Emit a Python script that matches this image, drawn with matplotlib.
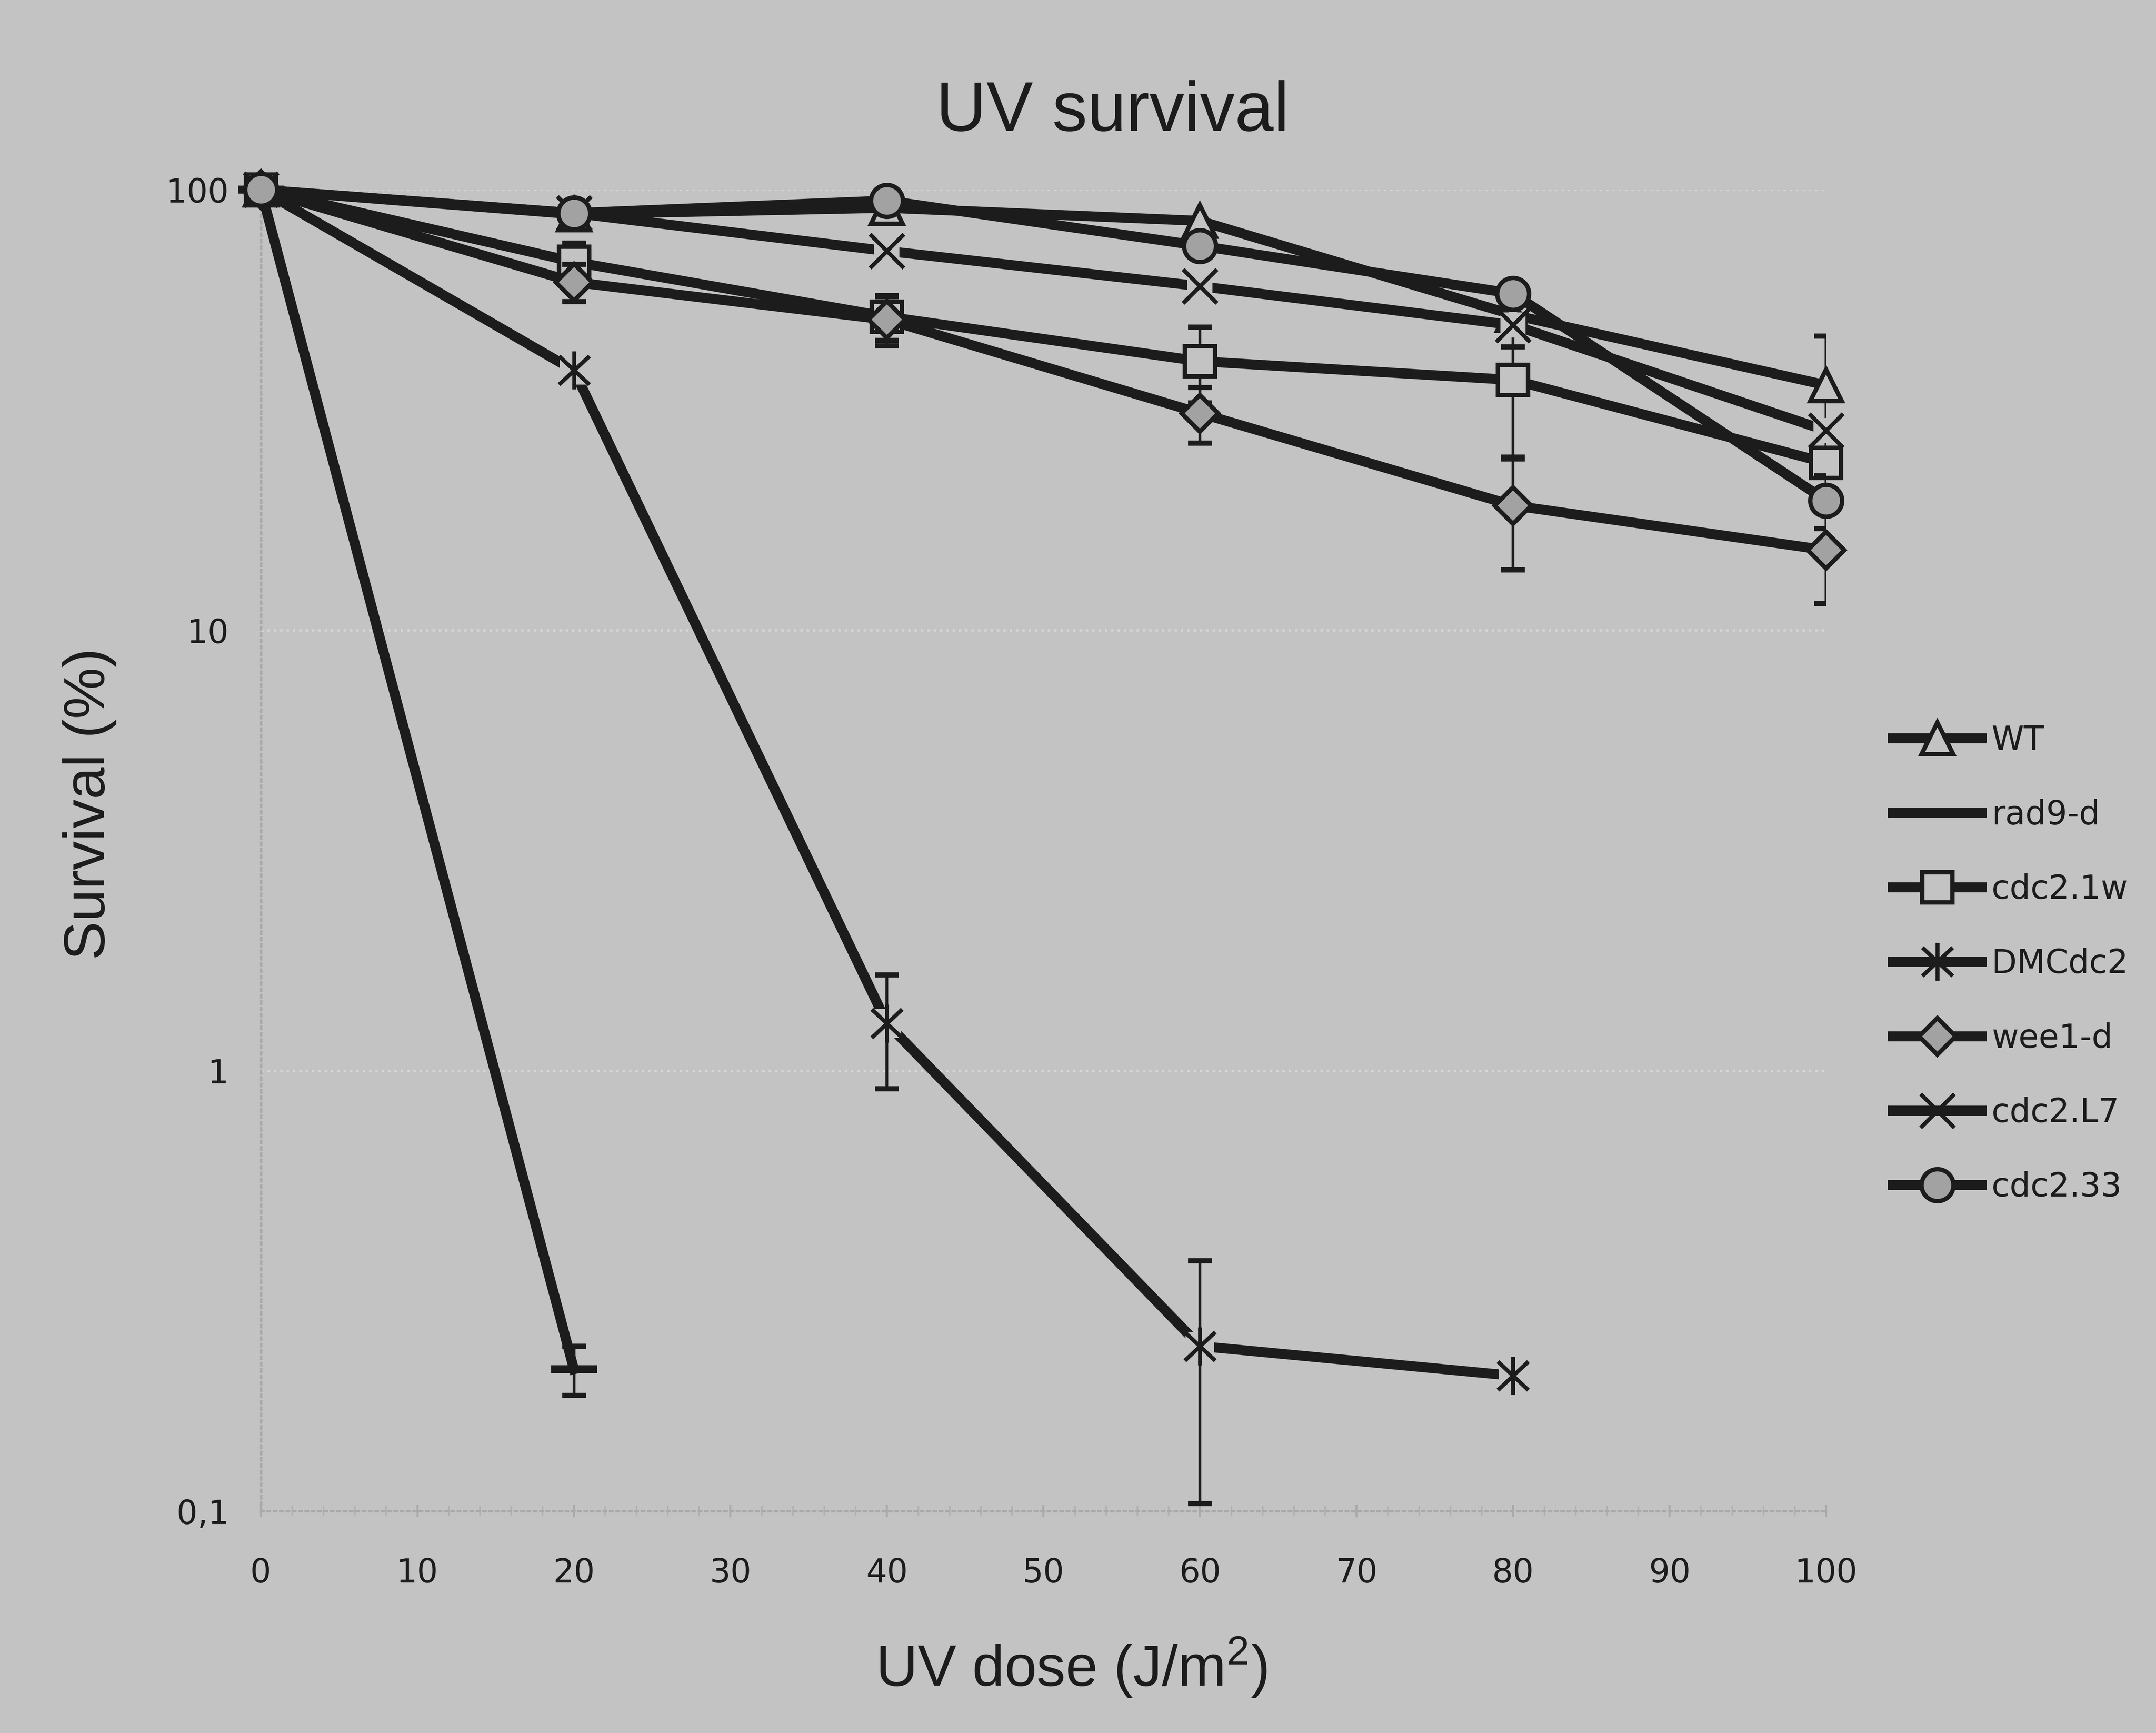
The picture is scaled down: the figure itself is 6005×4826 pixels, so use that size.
import matplotlib
matplotlib.use("Agg")
import matplotlib.pyplot as plt
from matplotlib.path import Path
import numpy as np

# UV dose (J/m2)
dose = [0, 20, 40, 60, 80, 100]

# survival (%) per strain
wt = [100, 88, 91, 85, 52, 36]
wt_err = [0, 0, 0, 0, 8, 10.5]
rad9 = [100, 0.21]
rad9_err = [0, 0.027]
cdc2_1w = [100, 68.6, 51.5, 40.8, 37, 24]
cdc2_1w_err = [0, 7, 6, 8, 12.5, 0]
dmcdc2 = [100, 38.9, 1.28, 0.237, 0.203]
dmcdc2_err = [0, 0, 0.37, 0.133, 0]
wee1 = [100, 61.7, 50.7, 31.1, 19.2, 15.2]
wee1_err = [0, 6, 6.5, 4.5, 5.5, 3.7]
cdc2_l7 = [100, 88.5, 72.6, 60.4, 49.3, 28.4]
cdc2_l7_err = [0, 0, 0, 0, 0, 0]
cdc2_33 = [100, 88.5, 94.5, 74.6, 58.1, 19.7]
cdc2_33_err = [0, 0, 0, 0, 0, 2.7]

bg = '#c3c3c3'
ink = '#1c1c1c'
fill = '#a2a2a2'

# six-armed asterisk marker
asterisk = Path([(0, -1), (0, 1), (-0.8, -0.75), (0.8, 0.75),
                 (-0.8, 0.75), (0.8, -0.75)],
                [Path.MOVETO, Path.LINETO, Path.MOVETO, Path.LINETO,
                 Path.MOVETO, Path.LINETO])

series = [
    ('WT', wt, wt_err, dict(marker='^', ms=16, mfc=bg, mew=2.2), False),
    ('rad9-d', rad9, rad9_err, dict(marker='_', ms=23, mew=4), False),
    ('cdc2.1w', cdc2_1w, cdc2_1w_err, dict(marker='s', ms=15, mfc=bg, mew=2.2), False),
    ('DMCdc2', dmcdc2, dmcdc2_err, dict(marker=asterisk, ms=19, mfc='none', mew=2), True),
    ('wee1-d', wee1, wee1_err, dict(marker='D', ms=13, mfc=fill, mew=2.2), False),
    ('cdc2.L7', cdc2_l7, cdc2_l7_err, dict(marker='x', ms=17, mew=2), True),
    ('cdc2.33', cdc2_33, cdc2_33_err, dict(marker='o', ms=16, mfc=fill, mew=2.2), False),
]

plt.rcParams['mathtext.default'] = 'regular'
fig = plt.figure(figsize=(15.0125, 12.065), dpi=400, facecolor=bg)
ax = fig.add_axes([0.121, 0.128, 0.726, 0.7625], facecolor=bg)

handles = []
for i, (name, vals, err, style, gap) in enumerate(series):
    x = dose[:len(vals)]
    z = 3 + i
    line, = ax.plot(x, vals, color=ink, lw=5, mec=ink, label=name,
                    zorder=z, clip_on=False, **style)
    if gap:
        # lines stop short of open cross markers
        ax.plot(x, vals, ls='none', marker='s', ms=style['ms'] * 0.75,
                mfc=bg, mec='none', zorder=z + 0.1, clip_on=False)
        ax.plot(x, vals, ls='none', color=ink, mec=ink, zorder=z + 0.2,
                clip_on=False, **style)
    xe = [a for a, e in zip(x, err) if e > 0]
    ye = [v for v, e in zip(vals, err) if e > 0]
    ee = [e for e in err if e > 0]
    if xe:
        ax.errorbar(xe, ye, yerr=ee, fmt='none', ecolor=ink, elinewidth=1.4,
                    capsize=6, capthick=2.6, zorder=z - 0.5)
    handles.append(line)

ax.set_yscale('log')
ax.set_xlim(0, 100)
ax.set_ylim(0.1, 100)
ax.set_xticks(np.arange(0, 101, 10))
ax.set_xticks(np.arange(0, 101, 2), minor=True)
ax.set_yticks([0.1, 1, 10, 100])
ax.set_yticklabels(['0,1', '1', '10', '100'])
ax.yaxis.set_minor_locator(matplotlib.ticker.NullLocator())
ax.tick_params(axis='x', which='major', length=6, width=1, color='#a9a9a9',
               direction='inout', pad=20, labelsize=16.5, labelcolor=ink)
ax.tick_params(axis='x', which='minor', length=5, width=0.8, color='#b0b0b0',
               direction='inout')
ax.tick_params(axis='y', length=0, pad=16, labelsize=16.5, labelcolor=ink)
ax.grid(axis='y', which='major', color='#d6d6d6', ls=':', lw=1.2)

for s in ['top', 'right']:
    ax.spines[s].set_visible(False)
for s in ['left', 'bottom']:
    ax.spines[s].set_color('#a9a9a9')
    ax.spines[s].set_linestyle(':')
    ax.spines[s].set_linewidth(1.2)

fig.text(0.516, 0.935, 'UV survival', ha='center', va='center',
         fontsize=35, family='Liberation Sans', color=ink)
fig.text(0.0415, 0.536, 'Survival (%)', ha='center', va='center',
         rotation=90, fontsize=29, family='Liberation Sans', color=ink)
fig.text(0.497, 0.038, 'UV dose (J/m$^2$)', ha='center', va='center',
         fontsize=29, family='Liberation Sans', color=ink)

fig.legend(handles=handles, loc='upper left', bbox_to_anchor=(0.878, 0.582),
           frameon=False, fontsize=16.5, handlelength=2.7, handletextpad=0.3,
           labelspacing=1.28, borderpad=0, borderaxespad=0,
           labelcolor=ink)

fig.savefig('out.png', dpi=400, facecolor=bg)
